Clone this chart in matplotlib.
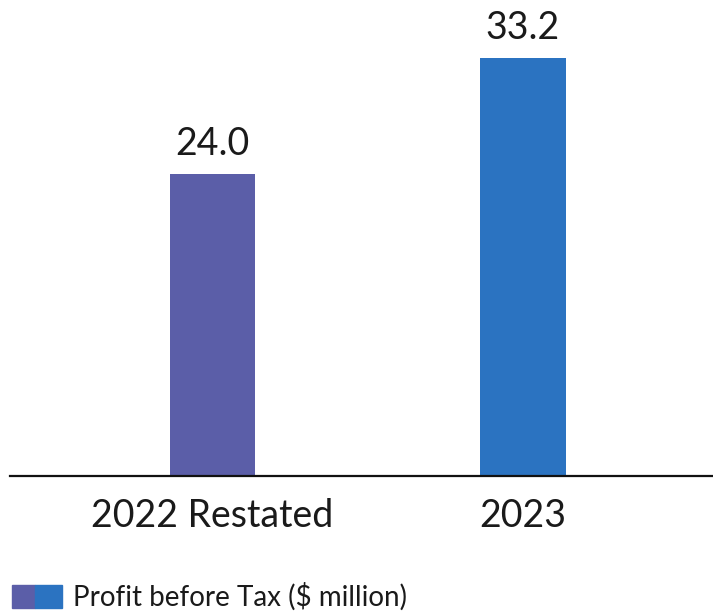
import matplotlib.pyplot as plt
from matplotlib.patches import Rectangle

# data
categories = ["2022 Restated", "2023"]
values = [24.0, 33.2]
colors = ["#5B5EA8", "#2B73C1"]
legend_label = "Profit before Tax ($ million)"

plt.rcParams['font.family'] = ['Lato', 'DejaVu Sans']

fig = plt.figure(figsize=(7.13, 6.11), dpi=100)
ax = fig.add_axes([10 / 713, 1 - 476 / 611, 703 / 713, 476 / 611])

x = range(len(categories))
bars = ax.bar(x, values, width=0.274, color=colors)
for b, v in zip(bars, values):
    ax.text(b.get_x() + b.get_width() / 2, v + 1.0, f"{v:.1f}",
            ha="center", va="bottom", fontsize=27, color="#1a1a1a")

ax.set_xlim(-0.652, 1.612)
ax.set_ylim(0, 37.84)
ax.set_xticks(list(x))
ax.set_xticklabels(categories, fontsize=27, color="#1a1a1a")
ax.tick_params(axis="x", length=0, pad=16)
ax.set_yticks([])
for s in ["top", "right", "left"]:
    ax.spines[s].set_visible(False)
ax.spines["bottom"].set_linewidth(1.6)
ax.spines["bottom"].set_color("#111111")

# legend swatch (two-tone)
fig.patches.append(Rectangle((12 / 713, 1 - 608 / 611), 23 / 713, 23 / 611,
                             transform=fig.transFigure, color=colors[0]))
fig.patches.append(Rectangle((35 / 713, 1 - 608 / 611), 27 / 713, 23 / 611,
                             transform=fig.transFigure, color=colors[1]))
fig.text(73 / 713, 1 - 597 / 611, legend_label, fontsize=20, va="center",
         ha="left", color="#1a1a1a")

fig.savefig("out.png", dpi=100)
